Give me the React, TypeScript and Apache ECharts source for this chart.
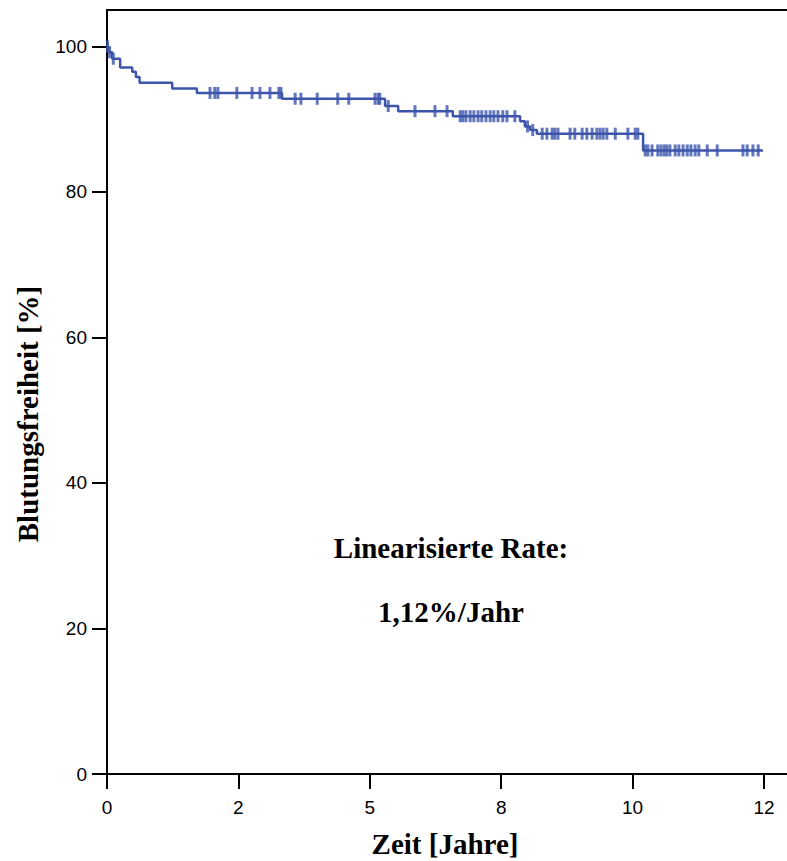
import React, { useEffect, useRef } from "react";
import * as echarts from "echarts";

// Kaplan-Meier step points (time in years, freedom from bleeding in %)
const stepTimes = [0, 0.03, 0.1, 0.25, 0.48, 0.55, 0.62, 1.24, 1.71, 3.33, 5.29, 5.54, 6.58, 7.86, 7.95, 8.05, 8.18, 10.2, 12.48];
const stepValues = [100, 99.2, 98.3, 97.1, 96.5, 95.8, 95.0, 94.2, 93.6, 92.8, 91.8, 91.1, 90.4, 89.7, 89.0, 88.5, 88.0, 85.7, 85.7];

// Censored observations
const censorTimes = [
  0.01, 0.05, 0.12,
  1.96, 2.05, 2.11, 2.47, 2.76, 2.91, 3.1, 3.27, 3.31,
  3.58, 3.69, 4.0, 4.39, 4.6, 5.1, 5.16, 5.19,
  5.35,
  5.86, 6.24, 6.47,
  6.72, 6.77, 6.83, 6.91, 6.98, 7.06, 7.13, 7.21, 7.29, 7.36, 7.44, 7.53, 7.61, 7.76,
  8.0, 8.1,
  8.28, 8.37, 8.47, 8.52, 8.58, 8.81, 8.9, 9.04, 9.13, 9.23, 9.32, 9.38, 9.44, 9.51, 9.67, 9.91, 10.05, 10.1,
  10.24, 10.29, 10.37, 10.48, 10.54, 10.6, 10.65, 10.71, 10.81, 10.88, 10.96, 11.04, 11.11, 11.19, 11.26, 11.42, 11.61, 12.1, 12.18, 12.29, 12.39,
];
const censorValues = [
  100, 99.2, 98.3,
  93.6, 93.6, 93.6, 93.6, 93.6, 93.6, 93.6, 93.6, 93.6,
  92.8, 92.8, 92.8, 92.8, 92.8, 92.8, 92.8, 92.8,
  91.8,
  91.1, 91.1, 91.1,
  90.4, 90.4, 90.4, 90.4, 90.4, 90.4, 90.4, 90.4, 90.4, 90.4, 90.4, 90.4, 90.4, 90.4,
  89.0, 88.5,
  88.0, 88.0, 88.0, 88.0, 88.0, 88.0, 88.0, 88.0, 88.0, 88.0, 88.0, 88.0, 88.0, 88.0, 88.0, 88.0, 88.0, 88.0,
  85.7, 85.7, 85.7, 85.7, 85.7, 85.7, 85.7, 85.7, 85.7, 85.7, 85.7, 85.7, 85.7, 85.7, 85.7, 85.7, 85.7, 85.7, 85.7, 85.7, 85.7,
];

const xTickValues = [0, 2.5, 5, 7.5, 10, 12.5];
const xTickLabels = ["0", "2", "5", "8", "10", "12"];
const yTickValues = [0, 20, 40, 60, 80, 100];

const xTitle = "Zeit [Jahre]";
const yTitle = "Blutungsfreiheit [%]";
const noteLine1 = "Linearisierte Rate:";
const noteLine2 = "1,12%/Jahr";

const BLUE = "#3c55ab";

export default function App() {
  const ref = useRef<HTMLDivElement>(null);
  useEffect(() => {
    if (!ref.current) return;
    const chart = echarts.init(ref.current, undefined, { renderer: "svg" });
    const xMax = 680 / 52.56;
    const axisFont = { fontFamily: "Liberation Sans, Arial, sans-serif", fontSize: 19, color: "#000" };
    const titleFont = { fontFamily: "Liberation Serif, Times New Roman, serif", fontWeight: "bold" as const, fill: "#000" };
    chart.setOption({
      animation: false,
      backgroundColor: "#fff",
      grid: { left: 107, top: 10, right: 0, bottom: 87, containLabel: false },
      xAxis: [
        {
          type: "value",
          min: 0,
          max: xMax,
          splitLine: { show: false },
          axisLine: { show: true, onZero: false, lineStyle: { color: "#000", width: 2 } },
          axisTick: { show: true, length: 15, inside: false, customValues: xTickValues, lineStyle: { color: "#000", width: 2 } },
          axisLabel: {
            ...axisFont,
            margin: 24,
            customValues: xTickValues,
            formatter: (v: number) => {
              const i = xTickValues.findIndex((t) => Math.abs(t - v) < 1e-6);
              return i >= 0 ? xTickLabels[i] : "";
            },
          },
        },
        {
          type: "value",
          position: "top",
          min: 0,
          max: xMax,
          splitLine: { show: false },
          axisLine: { show: true, onZero: false, lineStyle: { color: "#000", width: 2 } },
          axisTick: { show: false },
          axisLabel: { show: false },
        },
      ],
      yAxis: {
        type: "value",
        min: 0,
        max: 105,
        splitLine: { show: false },
        axisLine: { show: true, onZero: false, lineStyle: { color: "#000", width: 2 } },
        axisTick: { show: true, length: 15, customValues: yTickValues, lineStyle: { color: "#000", width: 2 } },
        axisLabel: { ...axisFont, margin: 20, customValues: yTickValues },
      },
      series: [
        {
          type: "line",
          step: "end",
          data: stepTimes.map((t, i) => [t, stepValues[i]]),
          showSymbol: false,
          symbol: "none",
          lineStyle: { color: BLUE, width: 2.5 },
          z: 3,
        },
        {
          type: "scatter",
          data: censorTimes.map((t, i) => [t, censorValues[i]]),
          symbol: "rect",
          symbolSize: [3, 12],
          itemStyle: { color: BLUE },
          z: 4,
        },
      ],
      graphic: [
        {
          type: "text",
          x: 445,
          y: 844,
          style: { ...titleFont, text: xTitle, fontSize: 29, align: "center", verticalAlign: "middle" },
        },
        {
          type: "text",
          x: 28,
          y: 414,
          rotation: Math.PI / 2,
          style: { ...titleFont, text: yTitle, fontSize: 29, align: "center", verticalAlign: "middle" },
        },
        {
          type: "text",
          x: 451,
          y: 548,
          style: { ...titleFont, text: noteLine1, fontSize: 29, align: "center", verticalAlign: "middle" },
        },
        {
          type: "text",
          x: 451,
          y: 612,
          style: { ...titleFont, text: noteLine2, fontSize: 29, align: "center", verticalAlign: "middle" },
        },
      ],
    });
    return () => chart.dispose();
  }, []);
  return <div ref={ref} style={{ position: "fixed", left: 0, top: 0, width: 787, height: 861 }} />;
}
